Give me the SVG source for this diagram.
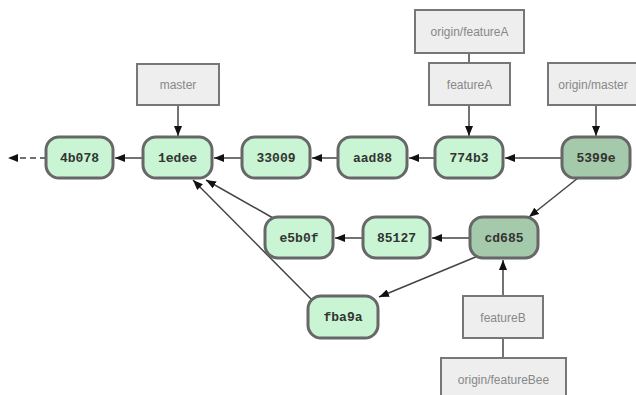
<svg xmlns="http://www.w3.org/2000/svg" width="636" height="395" viewBox="0 0 636 395">
<style>
.c rect{fill:#c9f5d4;stroke:#676767;stroke-width:3}
.d rect{fill:#a5c9ab;stroke:#676767;stroke-width:3}
.c text,.d text{font-family:"Liberation Mono",monospace;font-weight:bold;font-size:13px;fill:#333;text-anchor:middle}
.l rect{fill:#eeeeee;stroke:#777;stroke-width:2}
.l text{font-family:"Liberation Sans",Arial,sans-serif;font-size:12px;fill:#888;text-anchor:middle}
.e line{stroke:#444;stroke-width:1.5;fill:none}
</style>
<defs>
<marker id="a" viewBox="0 0 10 8" refX="10" refY="4" markerWidth="10" markerHeight="8" markerUnits="userSpaceOnUse" orient="auto"><path d="M0,0L10,4L0,8z" fill="#111"/></marker>
</defs>
<g id="edges" class="e">
<line x1="46" y1="158" x2="8" y2="158" stroke-dasharray="6,4" marker-end="url(#a)"/>
<line x1="143" y1="158" x2="115" y2="158" marker-end="url(#a)"/>
<line x1="242" y1="158" x2="214" y2="158" marker-end="url(#a)"/>
<line x1="338" y1="158" x2="312" y2="158" marker-end="url(#a)"/>
<line x1="435" y1="158" x2="409" y2="158" marker-end="url(#a)"/>
<line x1="562" y1="158" x2="505" y2="158" marker-end="url(#a)"/>
<line x1="578" y1="178" x2="529" y2="217" marker-end="url(#a)"/>
<line x1="470" y1="238" x2="432" y2="238" marker-end="url(#a)"/>
<line x1="363" y1="238" x2="335" y2="238" marker-end="url(#a)"/>
<line x1="273" y1="218" x2="206" y2="180" marker-end="url(#a)"/>
<line x1="312" y1="300" x2="193" y2="180" marker-end="url(#a)"/>
<line x1="478" y1="256" x2="379" y2="297" marker-end="url(#a)"/>
<line x1="178" y1="105" x2="178" y2="136" marker-end="url(#a)"/>
<line x1="469" y1="105" x2="469" y2="136" marker-end="url(#a)"/>
<line x1="596" y1="105" x2="596" y2="136" marker-end="url(#a)"/>
<line x1="503" y1="296" x2="503" y2="260" marker-end="url(#a)"/>
<line x1="469" y1="53" x2="469" y2="63"/>
<line x1="503" y1="338" x2="503" y2="358"/>
</g>
<g id="n4b078" class="c"><rect x="46" y="137" width="67" height="41" rx="13"/><text x="79.5" y="162">4b078</text></g>
<g id="n1edee" class="c"><rect x="143" y="137" width="69" height="41" rx="13"/><text x="177.5" y="162">1edee</text></g>
<g id="n33009" class="c"><rect x="242" y="137" width="68" height="41" rx="13"/><text x="276" y="162">33009</text></g>
<g id="naad88" class="c"><rect x="338" y="137" width="69" height="41" rx="13"/><text x="372.5" y="162">aad88</text></g>
<g id="n774b3" class="c"><rect x="435" y="137" width="68" height="41" rx="13"/><text x="469" y="162">774b3</text></g>
<g id="n5399e" class="d"><rect x="562" y="137" width="68" height="41" rx="13"/><text x="596" y="162">5399e</text></g>
<g id="ne5b0f" class="c"><rect x="265" y="217" width="68" height="41" rx="13"/><text x="299" y="242">e5b0f</text></g>
<g id="n85127" class="c"><rect x="363" y="217" width="67" height="41" rx="13"/><text x="396.5" y="242">85127</text></g>
<g id="ncd685" class="d"><rect x="470" y="217" width="68" height="41" rx="13"/><text x="504" y="242">cd685</text></g>
<g id="nfba9a" class="c"><rect x="308" y="296" width="70" height="42" rx="13"/><text x="343" y="321">fba9a</text></g>
<g id="master" class="l"><rect x="137" y="64" width="82" height="41"/><text x="178" y="89">master</text></g>
<g id="originFeatureA" class="l"><rect x="415" y="10" width="109" height="43"/><text x="469.5" y="36">origin/featureA</text></g>
<g id="featureA" class="l"><rect x="429" y="63" width="81" height="42"/><text x="469.5" y="89">featureA</text></g>
<g id="originMaster" class="l"><rect x="548" y="63" width="90" height="42"/><text x="593" y="89">origin/master</text></g>
<g id="featureB" class="l"><rect x="463" y="296" width="80" height="42"/><text x="503" y="322">featureB</text></g>
<g id="originFeatureBee" class="l"><rect x="441" y="358" width="125" height="45"/><text x="503.5" y="384">origin/featureBee</text></g>
</svg>
